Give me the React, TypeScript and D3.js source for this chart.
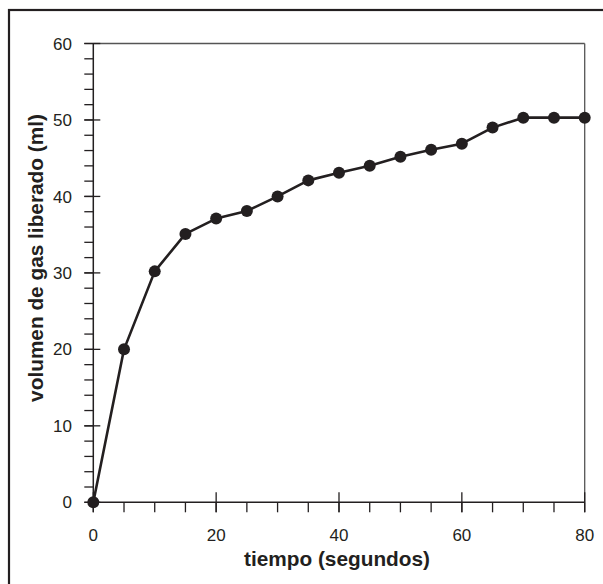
import React from "react";
import * as d3 from "d3";

const tiempo = [0, 5, 10, 15, 20, 25, 30, 35, 40, 45, 50, 55, 60, 65, 70, 75, 80];
const volumen = [0, 20.0, 30.2, 35.1, 37.1, 38.1, 40.0, 42.1, 43.1, 44.0, 45.2, 46.1, 46.9, 49.0, 50.3, 50.3, 50.3];
const xMajorTicks = [0, 20, 40, 60, 80];
const xMinorTicks = d3.range(0, 81, 5);
const yMajorTicks = [0, 10, 20, 30, 40, 50, 60];
const yMinorTicks = d3.range(0, 61, 2);

export default function App() {
  const W = 603, H = 584;
  const x = d3.scaleLinear().domain([0, 80]).range([93.3, 584.7]);
  const y = d3.scaleLinear().domain([0, 60]).range([502.3, 43.5]);
  const line = d3.line<number>().x((_, i) => x(tiempo[i])).y((d) => y(d));
  const ink = "#231f20";
  const font = "'Liberation Sans', Arial, sans-serif";
  return (
    <svg width={W} height={H} style={{ position: "absolute", left: 0, top: 0, background: "#fff" }}>
      <rect x={9} y={10} width={620} height={620} fill="#fff" stroke={ink} strokeWidth={2.2} />
      {/* frame */}
      <line x1={x(0)} x2={x(80)} y1={y(60)} y2={y(60)} stroke="#555" strokeWidth={1.3} />
      <line x1={x(80)} x2={x(80)} y1={y(60)} y2={y(0)} stroke="#555" strokeWidth={1.3} />
      {/* axes */}
      <line x1={x(0)} x2={x(0)} y1={y(60)} y2={y(0)} stroke={ink} strokeWidth={1.5} />
      <line x1={x(0)} x2={x(80)} y1={y(0)} y2={y(0)} stroke={ink} strokeWidth={1.5} />
      {yMinorTicks.map((t) => (
        <line key={"ym" + t} x1={x(0) - 9} x2={x(0)} y1={y(t)} y2={y(t)} stroke={ink} strokeWidth={1.3} />
      ))}
      {yMajorTicks.map((t) => (
        <g key={"yM" + t}>
          <line x1={x(0) - 9} x2={x(0) + 7} y1={y(t)} y2={y(t)} stroke={ink} strokeWidth={1.3} />
          <text x={72} y={y(t)} dy="0.36em" textAnchor="end" fontFamily={font} fontSize={17} fill={ink}>
            {t}
          </text>
        </g>
      ))}
      {xMinorTicks.map((t) => (
        <line key={"xm" + t} x1={x(t)} x2={x(t)} y1={y(0)} y2={y(0) + 10} stroke={ink} strokeWidth={1.3} />
      ))}
      {xMajorTicks.map((t) => (
        <g key={"xM" + t}>
          <line x1={x(t)} x2={x(t)} y1={y(0) - 10} y2={y(0) + 10} stroke={ink} strokeWidth={1.3} />
          <text x={x(t)} y={541} textAnchor="middle" fontFamily={font} fontSize={17} fill={ink}>
            {t}
          </text>
        </g>
      ))}
      <text x={337} y={566} textAnchor="middle" fontFamily={font} fontSize={20.8} fontWeight="bold" fill={ink}>
        tiempo (segundos)
      </text>
      <text
        transform={`translate(43,258) rotate(-90)`}
        textAnchor="middle"
        fontFamily={font}
        fontSize={20.8}
        fontWeight="bold"
        fill={ink}
      >
        volumen de gas liberado (ml)
      </text>
      <path d={line(volumen) || ""} fill="none" stroke={ink} strokeWidth={2.6} strokeLinejoin="round" />
      {volumen.map((v, i) => (
        <circle key={i} cx={x(tiempo[i])} cy={y(v)} r={6} fill={ink} />
      ))}
    </svg>
  );
}
